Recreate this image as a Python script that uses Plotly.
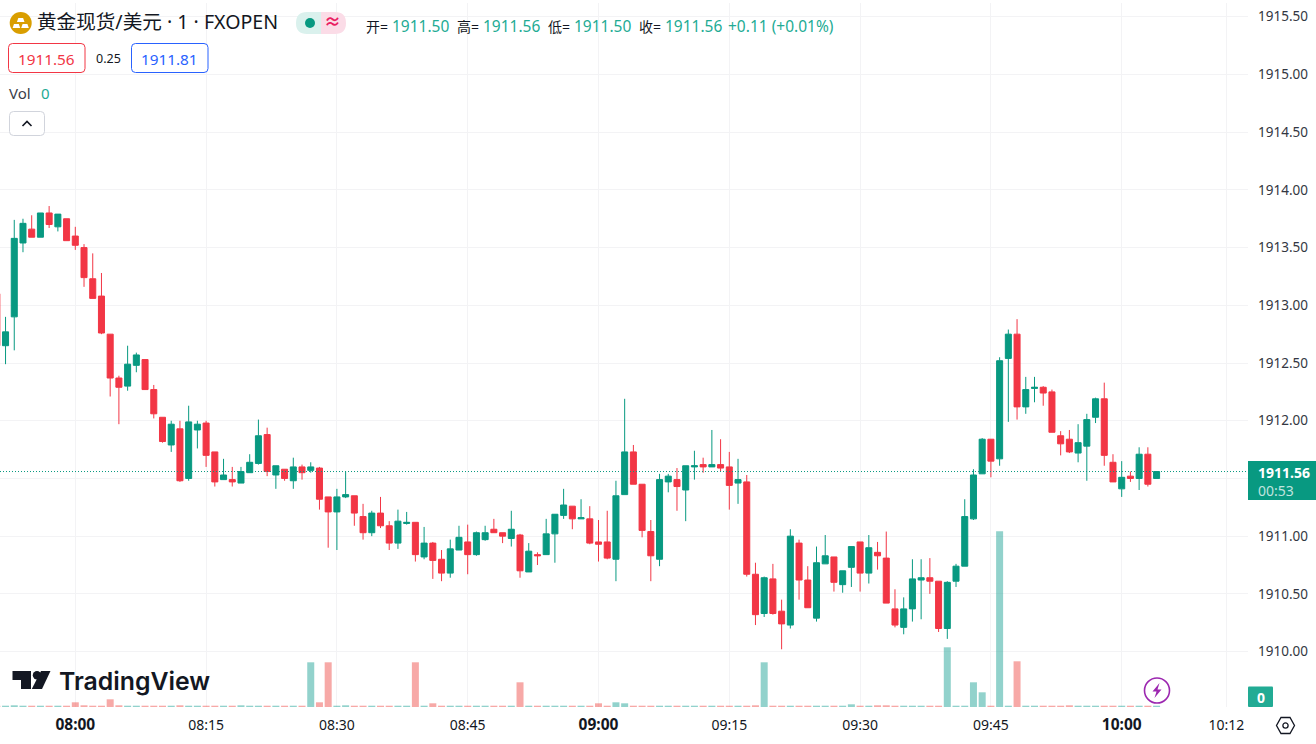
import pandas as pd
import plotly.graph_objects as go

start_time = "2023-06-02 07:51"
opens = [
 1913.10,1912.65,1912.90,1913.54,1913.66,1913.59,1913.80,1913.68,1913.75,1913.60,
 1913.50,1913.23,1913.08,1912.75,1912.37,1912.30,1912.48,1912.53,1912.27,1912.03,
 1911.79,1911.93,1911.50,1911.92,1911.98,1911.73,1911.49,1911.49,1911.46,1911.55,
 1911.63,1911.88,1911.53,1911.58,1911.48,1911.60,1911.57,1911.59,1911.34,1911.21,
 1911.34,1911.35,1911.17,1911.03,1911.20,1911.09,1910.94,1911.11,1911.12,1910.82,
 1910.94,1910.80,1910.68,1910.88,1910.95,1910.84,1910.97,1911.06,1911.03,1910.98,
 1911.01,1910.69,1910.84,1910.84,1911.02,1911.18,1911.26,1911.15,1911.15,1910.95,
 1910.95,1910.80,1911.36,1911.73,1911.45,1911.04,1910.80,1911.47,1911.49,1911.40,
 1911.60,1911.62,1911.60,1911.62,1911.60,1911.46,1911.47,1910.67,1910.33,1910.63,
 1910.35,1910.23,1910.94,1910.62,1910.29,1910.76,1910.82,1910.58,1910.73,1910.95,
 1910.68,1910.86,1910.81,1910.37,1910.21,1910.37,1910.62,1910.64,1910.61,1910.20,
 1910.61,1910.74,1911.15,1911.54,1911.84,1911.67,1912.54,1912.75,1912.12,1912.28,
 1912.29,1912.25,1911.87,1911.84,1911.72,1911.78,1912.03,1912.19,1911.64,1911.41,
 1911.52,1911.50,1911.71,1911.50]
highs = [
 1913.10,1912.90,1913.74,1913.75,1913.78,1913.80,1913.86,1913.79,1913.75,1913.68,
 1913.53,1913.45,1913.28,1912.75,1912.39,1912.65,1912.59,1912.53,1912.31,1912.03,
 1912.00,1912.00,1912.13,1912.00,1912.00,1911.73,1911.67,1911.60,1911.60,1911.71,
 1912.01,1911.94,1911.61,1911.58,1911.68,1911.62,1911.64,1911.60,1911.34,1911.41,
 1911.56,1911.35,1911.28,1911.22,1911.34,1911.13,1911.23,1911.21,1911.12,1911.08,
 1910.95,1910.88,1910.97,1911.09,1911.10,1911.04,1911.09,1911.15,1911.03,1911.22,
 1911.02,1910.94,1910.86,1911.15,1911.19,1911.41,1911.26,1911.32,1911.26,1911.14,
 1911.22,1911.48,1912.19,1911.79,1911.45,1911.14,1911.54,1911.54,1911.59,1911.61,
 1911.74,1911.68,1911.92,1911.84,1911.73,1911.67,1911.53,1910.77,1910.65,1910.76,
 1910.45,1911.06,1910.97,1910.74,1910.91,1911.01,1910.82,1910.70,1910.91,1910.95,
 1911.01,1910.95,1911.04,1910.54,1910.47,1910.80,1910.80,1910.81,1910.61,1910.61,
 1910.76,1911.32,1911.58,1911.85,1911.84,1912.55,1912.79,1912.88,1912.38,1912.38,
 1912.30,1912.27,1911.91,1911.92,1911.97,1912.06,1912.20,1912.33,1911.71,1911.65,
 1911.56,1911.77,1911.77,1911.56]
lows = [
 1912.65,1912.49,1912.61,1913.46,1913.59,1913.59,1913.67,1913.64,1913.56,1913.48,
 1913.16,1913.06,1912.75,1912.21,1911.97,1912.26,1912.42,1912.27,1912.02,1911.81,
 1911.73,1911.47,1911.48,1911.76,1911.60,1911.43,1911.49,1911.43,1911.46,1911.55,
 1911.62,1911.52,1911.41,1911.48,1911.41,1911.49,1911.55,1911.23,1910.90,1910.88,
 1911.33,1911.09,1910.97,1911.00,1911.07,1910.88,1910.89,1911.10,1910.78,1910.80,
 1910.63,1910.61,1910.64,1910.88,1910.67,1910.83,1910.96,1911.03,1910.94,1910.91,
 1910.64,1910.69,1910.75,1910.84,1910.77,1911.15,1911.06,1911.15,1910.93,1910.78,
 1910.80,1910.61,1911.36,1911.45,1910.99,1910.61,1910.74,1911.38,1911.22,1911.13,
 1911.49,1911.55,1911.60,1911.56,1911.23,1911.28,1910.65,1910.23,1910.30,1910.32,
 1910.02,1910.20,1910.45,1910.38,1910.26,1910.76,1910.52,1910.51,1910.56,1910.52,
 1910.59,1910.71,1910.42,1910.21,1910.15,1910.26,1910.28,1910.50,1910.17,1910.11,
 1910.56,1910.74,1911.14,1911.54,1911.51,1911.61,1911.99,1912.01,1912.06,1912.16,
 1912.13,1911.90,1911.70,1911.72,1911.64,1911.48,1911.98,1911.61,1911.47,1911.34,
 1911.47,1911.40,1911.43,1911.50]
closes = [
 1912.65,1912.77,1913.58,1913.71,1913.59,1913.80,1913.70,1913.79,1913.56,1913.52,
 1913.24,1913.06,1912.76,1912.37,1912.29,1912.49,1912.57,1912.27,1912.06,1911.82,
 1911.97,1911.48,1911.99,1911.97,1911.70,1911.47,1911.53,1911.47,1911.56,1911.64,
 1911.87,1911.56,1911.61,1911.50,1911.60,1911.55,1911.60,1911.32,1911.21,1911.34,
 1911.36,1911.20,1911.03,1911.20,1911.09,1910.94,1911.13,1911.12,1910.84,1910.94,
 1910.79,1910.68,1910.89,1910.99,1910.84,1911.03,1911.03,1911.03,1911.00,1911.06,
 1910.70,1910.87,1910.83,1911.02,1911.19,1911.27,1911.15,1911.16,1910.94,1910.93,
 1910.81,1911.35,1911.73,1911.45,1911.05,1910.83,1911.49,1911.52,1911.43,1911.61,
 1911.61,1911.60,1911.62,1911.59,1911.44,1911.49,1910.67,1910.32,1910.64,1910.33,
 1910.24,1911.00,1910.62,1910.38,1910.77,1910.83,1910.60,1910.70,1910.91,1910.68,
 1910.90,1910.83,1910.42,1910.23,1910.37,1910.63,1910.64,1910.61,1910.20,1910.60,
 1910.74,1911.17,1911.53,1911.84,1911.65,1912.52,1912.75,1912.12,1912.27,1912.29,
 1912.24,1911.90,1911.80,1911.73,1911.81,1912.01,1912.19,1911.70,1911.47,1911.51,
 1911.50,1911.71,1911.45,1911.56]
volumes = [
 1.3,1.3,1.7,1.3,1.3,1.3,1.3,1.3,1.3,4.7,
 1.7,1.3,1.3,7.7,1.7,1.3,1.3,1.3,1.3,1.3,
 1.3,1.7,1.3,1.3,1.3,1.3,1.3,1.3,1.7,1.3,
 1.3,1.3,1.3,1.3,1.3,1.3,44.7,4.7,44.7,1.3,
 1.7,1.3,1.3,1.3,1.3,1.3,1.3,1.3,44.7,1.3,
 3.7,1.3,1.3,1.3,1.3,1.3,1.3,1.3,1.3,1.3,
 24.7,1.3,1.3,1.3,1.3,1.3,1.3,1.3,1.3,3.7,
 1.3,4.7,3.7,1.3,1.3,1.3,1.3,1.3,1.3,1.3,
 1.3,1.3,1.3,1.3,1.3,1.3,1.3,1.7,44.7,1.3,
 1.3,1.3,1.3,1.3,1.3,1.3,1.3,1.3,2.7,1.3,
 1.3,1.7,1.7,1.3,1.3,1.3,1.3,1.3,1.3,59.7,
 1.3,1.3,24.7,14.7,1.3,175.7,1.3,45.7,1.3,1.3,
 1.3,1.3,1.3,1.7,1.3,1.3,1.3,1.3,1.3,1.3,
 1.3,1.3,1.3,1.3]
price_ticks = [1910.00,1910.50,1911.00,1911.50,1912.00,1912.50,1913.00,1913.50,1914.00,1914.50,1915.00,1915.50]
hidden_price_labels = {1911.50}
time_ticks = ["08:00","08:15","08:30","08:45","09:00","09:15","09:30","09:45","10:00","10:12"]
bold_times = {"08:00","09:00","10:00"}
last_price = 1911.56

UP, DOWN = "#089981", "#F23645"
VOL_UP, VOL_DOWN = "rgba(38,166,154,0.5)", "rgba(239,83,80,0.5)"
INK, GRID = "#131722", "#F3F3F5"
FONT = "Noto Sans, Noto Sans CJK SC, sans-serif"

W, H = 1316, 744
L, R, T, B = 0, 68, 3, 37
PW, PH = W - L - R, H - T - B

day = start_time[:10]
times = pd.date_range(start_time, periods=len(opens), freq="min")
tickvals = [f"{day} {t}" for t in time_ticks]
ticktext = [f"<span style='font-size:15.5px'><b>{t}</b></span>" if t in bold_times else t for t in time_ticks]

fig = go.Figure()
fig.add_bar(x=times, y=volumes, yaxis="y2", width=7 / 8.72 * 60000,
            marker=dict(color=[VOL_UP if c >= o else VOL_DOWN for o, c in zip(opens, closes)], line_width=0))
fig.add_candlestick(x=times, open=opens, high=highs, low=lows, close=closes,
                    whiskerwidth=0,
                    increasing=dict(line=dict(color=UP, width=1), fillcolor=UP),
                    decreasing=dict(line=dict(color=DOWN, width=1), fillcolor=DOWN))


def X(p): return p / PW
def Y(p): return (H - B - p) / PH


def rrect(x0, y0, x1, y1, r):
    return (f"M{X(x0+r)},{Y(y0)} L{X(x1-r)},{Y(y0)} Q{X(x1)},{Y(y0)} {X(x1)},{Y(y0+r)} "
            f"L{X(x1)},{Y(y1-r)} Q{X(x1)},{Y(y1)} {X(x1-r)},{Y(y1)} L{X(x0+r)},{Y(y1)} "
            f"Q{X(x0)},{Y(y1)} {X(x0)},{Y(y1-r)} L{X(x0)},{Y(y0+r)} Q{X(x0)},{Y(y0)} {X(x0+r)},{Y(y0)} Z")


def poly(pts, close=True):
    s = "M" + " L".join(f"{X(a)},{Y(b)}" for a, b in pts)
    return s + (" Z" if close else "")


shapes, notes = [], []


def path(d, fill="rgba(0,0,0,0)", line=None, lw=1):
    shapes.append(dict(type="path", xref="paper", yref="paper", path=d, fillcolor=fill,
                       line=dict(color=line or "rgba(0,0,0,0)", width=lw if line else 0), layer="above"))


def box(x0, y0, x1, y1, fill):
    shapes.append(dict(type="rect", xref="paper", yref="paper", x0=X(x0), x1=X(x1), y0=Y(y0), y1=Y(y1),
                       fillcolor=fill, line_width=0, layer="above"))


def circle(cx, cy, r, fill="rgba(0,0,0,0)", line=None, lw=1):
    shapes.append(dict(type="circle", xref="paper", yref="paper", x0=X(cx-r), x1=X(cx+r), y0=Y(cy+r), y1=Y(cy-r),
                       fillcolor=fill, line=dict(color=line or "rgba(0,0,0,0)", width=lw if line else 0), layer="above"))


def text(x, y, s, size=14, color=INK, anchor="left", family=FONT, weight=None):
    font = dict(size=size, color=color, family=family)
    if weight:
        font["weight"] = weight
    notes.append(dict(xref="paper", yref="paper", x=X(x), y=Y(y), text=s, showarrow=False, xanchor=anchor,
                      yanchor="middle", align="left", font=font, borderpad=0, borderwidth=0))


# last price dotted line
shapes.append(dict(type="line", xref="paper", yref="y", x0=0, x1=1, y0=last_price, y1=last_price,
                   line=dict(color=UP, width=1, dash="1px,2px"), layer="above"))
# top strip
box(0, -3, W, 0, "#E0E3EB")
# symbol icon
circle(20.7, 23, 11, "#D99E00")
for cx, cy in [(20.7, 20), (16.4, 26), (25, 26)]:
    path(poly([(cx-2.4, cy-2), (cx+2.4, cy-2), (cx+3.8, cy+2), (cx-3.8, cy+2)]), "#FFFFFF")
text(37, 22, "黄金现货/美元 · 1 · FXOPEN", 19.6)
# status pill
path(f"M{X(321)},{Y(12)} L{X(307)},{Y(12)} Q{X(296)},{Y(12)} {X(296)},{Y(23)} Q{X(296)},{Y(34)} {X(307)},{Y(34)} L{X(321)},{Y(34)} Z", "#DAF1ED")
path(f"M{X(321)},{Y(12)} L{X(335)},{Y(12)} Q{X(346)},{Y(12)} {X(346)},{Y(23)} Q{X(346)},{Y(34)} {X(335)},{Y(34)} L{X(321)},{Y(34)} Z", "#FBDCE7")
circle(310, 23, 5, UP)
text(332, 22, "<b>≈</b>", 17, "#E91E63", "center")
# OHLC row
VAL = "#22AB94"
for lx, lab, vx, val in [(366, "开=", 392, "1911.50"), (457, "高=", 483, "1911.56"),
                         (548, "低=", 574, "1911.50"), (639, "收=", 665, "1911.56")]:
    text(lx, 26, lab, 14)
    text(vx, 26, val, 15.5, VAL)
text(728, 26, "+0.11 (+0.01%)", 15.5, VAL)
# bid / ask
path(rrect(8.5, 43.5, 85, 72.5, 4), "#FFFFFF", DOWN, 1)
text(46.5, 58.5, "1911.56", 15.3, DOWN, "center")
text(108, 58, "0.25", 12.5, INK, "center")
path(rrect(131.5, 43.5, 208, 72.5, 4), "#FFFFFF", "#2962FF", 1)
text(169.5, 58.5, "1911.81", 15.3, "#2962FF", "center")
# volume legend
text(9, 93, "Vol", 15, "#3A3E4A")
text(41, 93, "0", 15, VAL)
path(rrect(9.5, 111.5, 44.5, 135.5, 4), "#FFFFFF", "#D1D4DC", 1)
path(poly([(22.5, 126), (27, 121.5), (31.5, 126)], False), line=INK, lw=1.6)
# logo
path(poly([(12.5, 671), (31, 671), (31, 689), (21, 689), (21, 680), (12.5, 680)]), INK)
circle(37, 675.3, 4.2, INK)
path(poly([(41, 671), (50.5, 671), (42, 689), (31.8, 689)]), INK)
text(58.5, 681, "TradingView", 24.8, INK, family="Inter, Noto Sans, sans-serif", weight=600)
# replay / lightning badge
circle(1157, 690.5, 12.5, "#FFFFFF", "#9C27B0", 1.6)
path(poly([(1159.5, 683), (1152.5, 691.5), (1156.5, 691.5), (1154.5, 698), (1161.5, 689.5), (1157.5, 689.5)]), "#9C27B0")
# price tag
box(1248, 461, W, 500, UP)
text(1258, 481, "<b>1911.56</b><br><span style='color:rgba(255,255,255,0.75)'>00:53</span>", 14, "#FFFFFF")
# volume tag
path(rrect(1248, 686.5, 1273, 707, 1), "#22AB94")
text(1261, 697, "<b>0</b>", 14, "#FFFFFF", "center")
# settings icon
path(poly([(1281, 717.5), (1290, 717.5), (1294.5, 725.5), (1290, 733.5), (1281, 733.5), (1276.5, 725.5)]), line=INK, lw=1.3)
circle(1285.5, 725.5, 2.6, "rgba(0,0,0,0)", INK, 1.3)

x_left = pd.Timestamp(f"{day} 08:00") - pd.Timedelta(minutes=75.3 / 8.72)
x_right = pd.Timestamp(f"{day} 08:00") + pd.Timedelta(minutes=(PW - 75.3) / 8.72)
y_low = 1910 - (H - B - 651.6) / 115.43
y_high = 1910 + (651.6 - T) / 115.43

fig.update_layout(
    width=W, height=H, autosize=False, showlegend=False,
    margin=dict(l=L, r=R, t=T, b=B, pad=0),
    paper_bgcolor="#FFFFFF", plot_bgcolor="#FFFFFF",
    font=dict(family=FONT, color=INK, size=13),
    hovermode=False, bargap=0.2, boxgap=0.31, boxgroupgap=0,
    shapes=shapes, annotations=notes,
    xaxis=dict(type="date", range=[x_left, x_right], rangeslider_visible=False,
               tickmode="array", tickvals=tickvals, ticktext=ticktext,
               showgrid=True, gridcolor=GRID, gridwidth=1, zeroline=False, showline=False,
               ticks="", ticklabelstandoff=8, tickfont=dict(size=14, color=INK)),
    yaxis=dict(range=[y_low, y_high], side="right", tickmode="array", tickvals=price_ticks,
               ticktext=["" if p in hidden_price_labels else f"{p:.2f}" for p in price_ticks],
               showgrid=True, gridcolor=GRID, gridwidth=1,
               zeroline=False, showline=False, ticks="", ticklabelstandoff=9,
               tickfont=dict(size=13.5, color="#333742")),
    yaxis2=dict(range=[0, PH], overlaying="y", side="left", visible=False, fixedrange=True),
)
fig.write_html("out.html", post_script="document.body.style.margin='0';document.body.style.overflow='hidden';",
               config=dict(displayModeBar=False))
